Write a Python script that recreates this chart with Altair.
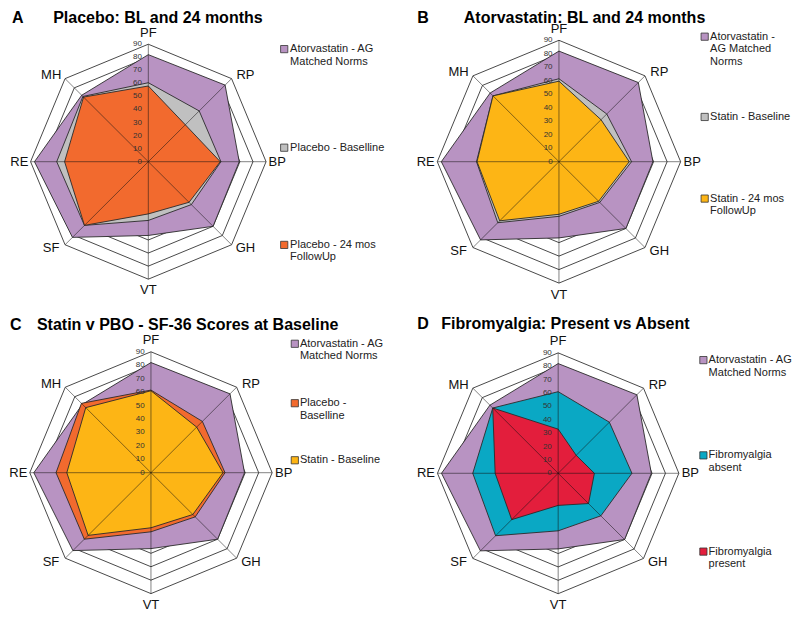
import math
import altair as alt
import pandas as pd

# ---------------- data ----------------
AXES = ["PF", "RP", "BP", "GH", "VT", "SF", "RE", "MH"]
TICKS = [0, 10, 20, 30, 40, 50, 60, 70, 80, 90]

NORMS = [82, 83, 69.5, 70, 56.5, 82, 87, 72]
A_PLACEBO_BL = [60.5, 55, 55.5, 46.5, 45, 69, 70, 70.7]
A_PLACEBO_24 = [58, 40, 55, 44, 40, 69, 64, 70]
B_STATIN_BL = [61.5, 50, 53.7, 42.7, 40.5, 64, 61, 69]
B_STATIN_24 = [59.7, 44, 52, 41.5, 39, 62, 60.6, 69]
C_PLACEBO_BL = [61.5, 54, 55, 46.5, 44, 70, 70.5, 73]
C_STATIN_BL = [61, 48, 53.5, 44, 41, 66, 62.5, 68.5]
D_FM_ABSENT = [61, 54, 55, 45, 43, 66, 63.7, 69]
D_FM_PRESENT = [33, 19, 27, 32, 24, 49, 47, 69]

PURPLE = "#B893C2"
GRAY = "#C0C0C0"
ORANGE = "#F26A2E"
YELLOW = "#FDB515"
TEAL = "#0AA8C4"
RED = "#E31E3C"

PANELS = [
    dict(letter="A", title="Placebo: BL and 24 months",
         series=[(["Atorvastatin - AG", "Matched Norms"], NORMS, PURPLE),
                 (["Placebo - Baselline"], A_PLACEBO_BL, GRAY),
                 (["Placebo - 24 mos", "FollowUp"], A_PLACEBO_24, ORANGE)]),
    dict(letter="B", title="Atorvastatin: BL and 24 months",
         series=[(["Atorvastatin -", "AG Matched", "Norms"], NORMS, PURPLE),
                 (["Statin - Baseline"], B_STATIN_BL, GRAY),
                 (["Statin - 24 mos", "FollowUp"], B_STATIN_24, YELLOW)]),
    dict(letter="C", title="Statin v PBO - SF-36 Scores at Baseline",
         series=[(["Atorvastatin - AG", "Matched Norms"], NORMS, PURPLE),
                 (["Placebo -", "Baselline"], C_PLACEBO_BL, ORANGE),
                 (["Statin - Baseline"], C_STATIN_BL, YELLOW)]),
    dict(letter="D", title="Fibromyalgia: Present vs Absent",
         series=[(["Atorvastatin - AG", "Matched Norms"], NORMS, PURPLE),
                 (["Fibromyalgia", "absent"], D_FM_ABSENT, TEAL),
                 (["Fibromyalgia", "present"], D_FM_PRESENT, RED)]),
]

# ---------------- layout (reference pixel space) ----------------
LAYOUT = {
    "A": dict(cx=144, cy=160, r=120, lx=5, tx=47, ty=13, swx=282.5, txx=288.5, legy=[45, 145.7, 245]),
    "B": dict(cx=562.5, cy=160, r=124, lx=418, tx=465.5, ty=13, swx=711, txx=716.5, legy=[32.3, 114.3, 197.7]),
    "C": dict(cx=146.7, cy=477.7, r=123.5, lx=3, tx=30.5, ty=327, swx=293.3, txx=298.5, legy=[346, 406.7, 465]),
    "D": dict(cx=561.7, cy=478.3, r=123, lx=418, tx=442.5, ty=326, swx=709.7, txx=715, legy=[362.7, 460, 558.3]),
}
LINE_H = 12.7
LAB_CARD = 1.095           # axis-label distance (fraction of the 90 ring) on cardinal axes
LAB_DIAG = (0.825, 0.735)  # axis-label offsets (x, y) on diagonal axes
FONT = "Liberation Sans, Arial, Helvetica, sans-serif"


def polar(p, value, i):
    L = LAYOUT[p]
    rr = L["r"] * value / 90.0
    th = math.radians(45 * i)
    return L["cx"] + rr * math.sin(th), L["cy"] - rr * math.cos(th)


def label_pos(p, i):
    L = LAYOUT[p]
    th = math.radians(45 * i)
    s, c = math.sin(th), math.cos(th)
    if i % 2 == 0:
        return L["cx"] + L["r"] * LAB_CARD * s, L["cy"] - L["r"] * LAB_CARD * c
    sx = 1 if s > 0 else -1
    sy = 1 if c > 0 else -1
    return L["cx"] + L["r"] * LAB_DIAG[0] * sx, L["cy"] - L["r"] * LAB_DIAG[1] * sy


poly_rows, ring_rows, spoke_rows, tick_rows, lab_rows = [], [], [], [], []
title_rows, letter_rows, sw_rows, legtext_rows = [], [], [], []

for panel in PANELS:
    p = panel["letter"]
    L = LAYOUT[p]
    for rank, (label, vals, color) in enumerate(panel["series"]):
        for k in range(len(AXES) + 1):
            i = k % len(AXES)
            x, y = polar(p, vals[i], i)
            poly_rows.append(dict(rank=rank, sid=f"{p}{rank}", order=k, x=x, y=y, color=color))
        y0 = L["legy"][rank]
        sw_rows.append(dict(x=L["swx"], y=y0, color=color))
        for j, line in enumerate(label):
            legtext_rows.append(dict(x=L["txx"], y=y0 + j * LINE_H, text=line))
    for t in TICKS[1:]:
        for k in range(len(AXES) + 1):
            i = k % len(AXES)
            x, y = polar(p, t, i)
            ring_rows.append(dict(rid=f"{p}{t}", order=k, x=x, y=y))
    for i in range(len(AXES)):
        x2, y2 = polar(p, 90, i)
        spoke_rows.append(dict(x=L["cx"], y=L["cy"], x2=x2, y2=y2))
        lx, ly = label_pos(p, i)
        lab_rows.append(dict(x=lx, y=ly, text=AXES[i]))
    for t in TICKS:
        x, y = polar(p, t, 0)
        tick_rows.append(dict(x=x - 6.5, y=y, text=str(t)))
    letter_rows.append(dict(x=L["lx"], y=L["ty"], text=p))
    title_rows.append(dict(x=L["tx"], y=L["ty"], text=panel["title"]))

poly = pd.DataFrame(poly_rows)
rings = pd.DataFrame(ring_rows)
spokes = pd.DataFrame(spoke_rows)
ticks = pd.DataFrame(tick_rows)
labs = pd.DataFrame(lab_rows)
letters = pd.DataFrame(letter_rows)
titles = pd.DataFrame(title_rows)
swatches = pd.DataFrame(sw_rows)
legtext = pd.DataFrame(legtext_rows)

W, H = 784, 604
XS = alt.Scale(domain=[1, 800], range=[0, W], nice=False, zero=False)
YS = alt.Scale(domain=[3, 620], range=[0, H], nice=False, zero=False)
X = alt.X("x:Q", scale=XS, axis=None)
Y = alt.Y("y:Q", scale=YS, axis=None)

ring_layer = alt.Chart(rings).mark_line(stroke="#4a4a4a", strokeWidth=1, fill=None).encode(
    x=X, y=Y, detail="rid:N", order="order:Q")

poly_layers = []
for rank in range(3):
    poly_layers.append(
        alt.Chart(poly[poly["rank"] == rank]).mark_line(stroke="#2a2a2a", strokeWidth=0.9).encode(
            x=X, y=Y, detail="sid:N", order="order:Q",
            fill=alt.Fill("color:N", scale=None))
    )

spoke_layer = alt.Chart(spokes).mark_rule(stroke="#111111", strokeWidth=0.8, opacity=0.65).encode(
    x=X, y=Y, x2="x2:Q", y2="y2:Q")

tick_layer = alt.Chart(ticks).mark_text(font=FONT, fontSize=8, color="#333333", align="right",
                                        baseline="middle").encode(x=X, y=Y, text="text:N")
lab_layer = alt.Chart(labs).mark_text(font=FONT, fontSize=13, color="#111111", align="center",
                                      baseline="middle").encode(x=X, y=Y, text="text:N")
letter_layer = alt.Chart(letters).mark_text(font=FONT, fontSize=16, fontWeight="bold", color="#000000",
                                            align="left", baseline="middle").encode(x=X, y=Y, text="text:N")
title_layer = alt.Chart(titles).mark_text(font=FONT, fontSize=16, fontWeight="bold", color="#000000",
                                          align="left", baseline="middle").encode(x=X, y=Y, text="text:N")
sw_layer = alt.Chart(swatches).mark_square(size=52, opacity=1, stroke="#333333", strokeWidth=0.8).encode(
    x=X, y=Y, fill=alt.Fill("color:N", scale=None))
legtext_layer = alt.Chart(legtext).mark_text(font=FONT, fontSize=11, color="#222222", align="left",
                                             baseline="middle").encode(x=X, y=Y, text="text:N")

chart = alt.layer(
    ring_layer, *poly_layers, spoke_layer, tick_layer, lab_layer,
    letter_layer, title_layer, sw_layer, legtext_layer
).properties(
    width=W, height=H, autosize=alt.AutoSizeParams(type="none"), padding=0
).configure_view(stroke=None)

chart.save("out.html", embed_options={"renderer": "svg", "actions": False})
